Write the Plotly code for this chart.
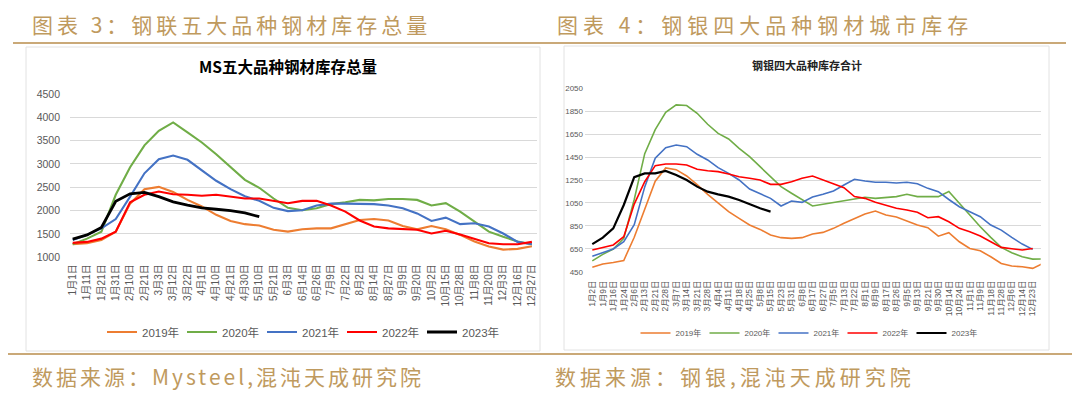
import plotly.graph_objects as go

W, H = 1080, 393

# ---------------- Left chart data (MS五大品种钢材库存总量) ----------------
left_labels = ["1月1日", "1月11日", "1月21日", "1月31日", "2月10日", "2月21日", "3月3日", "3月12日",
               "3月22日", "4月1日", "4月10日", "4月21日", "4月30日", "5月10日", "5月21日", "6月3日",
               "6月14日", "6月26日", "7月9日", "7月22日", "8月2日", "8月14日", "8月27日", "9月9日",
               "9月20日", "10月2日", "10月15日", "10月28日", "11月8日", "11月20日", "12月3日",
               "12月16日", "12月27日"]
left_2019 = [1280, 1300, 1370, 1550, 2150, 2460, 2510, 2400, 2230, 2090, 1910, 1780, 1710, 1680,
             1590, 1550, 1600, 1620, 1620, 1715, 1800, 1820, 1790, 1670, 1600, 1670, 1600, 1480,
             1340, 1230, 1165, 1180, 1235]
left_2020 = [1280, 1400, 1550, 2340, 2930, 3400, 3710, 3890, 3680, 3460, 3210, 2940, 2660, 2490,
             2260, 2060, 2010, 2050, 2140, 2180, 2230, 2220, 2250, 2250, 2230, 2110, 2160, 1980,
             1760, 1550, 1440, 1340, 1280]
left_2021 = [1370, 1480, 1620, 1820, 2300, 2800, 3100, 3180, 3090, 2870, 2640, 2460, 2310, 2210,
             2060, 1990, 2010, 2110, 2150, 2150, 2150, 2140, 2110, 2050, 1940, 1780, 1850, 1710,
             1730, 1660, 1510, 1330, 1280]
left_2022 = [1310, 1330, 1400, 1550, 2180, 2340, 2410, 2350, 2340, 2320, 2340, 2300, 2260, 2260,
             2210, 2160, 2210, 2210, 2110, 1980, 1790, 1660, 1620, 1600, 1590, 1510, 1570, 1490,
             1390, 1300, 1280, 1280, 1330]
left_2023 = [1390, 1480, 1640, 2200, 2360, 2390, 2300, 2190, 2120, 2060, 2030, 2000, 1950, 1870]
left_yticks = [1000, 1500, 2000, 2500, 3000, 3500, 4000, 4500]

# ---------------- Right chart data (钢银四大品种库存合计) ----------------
right_labels = ["1月2日", "1月9日", "1月16日", "1月24日", "2月6日", "2月13日", "2月21日", "2月28日",
                "3月7日", "3月14日", "3月21日", "3月28日", "4月4日", "4月11日", "4月18日", "4月25日",
                "5月8日", "5月15日", "5月23日", "5月31日", "6月8日", "6月17日", "6月27日", "7月5日",
                "7月13日", "7月22日", "8月1日", "8月9日", "8月17日", "8月26日", "9月5日", "9月13日",
                "9月21日", "9月30日", "10月14日", "10月24日", "11月1日", "11月9日", "11月18日",
                "11月28日", "12月6日", "12月14日", "12月23日"]
right_2019 = [488, 517, 531, 548, 750, 1000, 1240, 1355, 1340, 1285, 1210, 1125, 1046, 974, 915,
              857, 819, 770, 747, 741, 747, 779, 793, 828, 872, 915, 953, 979, 945, 927, 895, 857,
              834, 760, 790, 711, 653, 633, 580, 522, 499, 493, 479, 523]
right_2020 = [545, 601, 648, 740, 1080, 1480, 1690, 1840, 1905, 1900, 1832, 1736, 1657, 1608, 1526,
              1454, 1366, 1279, 1192, 1134, 1075, 1023, 1038, 1052, 1070, 1081, 1099, 1090, 1096,
              1105, 1125, 1105, 1105, 1105, 1150, 1046, 944, 842, 749, 662, 615, 580, 560, 561]
right_2021 = [585, 619, 648, 712, 860, 1190, 1440, 1532, 1555, 1541, 1474, 1425, 1358, 1308, 1250,
              1171, 1134, 1090, 1023, 1067, 1055, 1102, 1125, 1154, 1206, 1256, 1241, 1230, 1230,
              1224, 1230, 1218, 1177, 1148, 1080, 1017, 973, 930, 857, 813, 749, 691, 645]
right_2022 = [639, 659, 683, 755, 1040, 1235, 1375, 1390, 1390, 1381, 1343, 1331, 1323, 1302, 1279,
              1265, 1250, 1212, 1212, 1235, 1265, 1285, 1250, 1212, 1183, 1105, 1090, 1055, 1026,
              1003, 988, 968, 921, 930, 886, 828, 799, 761, 711, 662, 650, 639, 653]
right_2023 = [691, 747, 828, 1032, 1275, 1308, 1308, 1329, 1294, 1250, 1192, 1148, 1125, 1105, 1075,
              1038, 1003, 974]
right_yticks = [450, 650, 850, 1050, 1250, 1450, 1650, 1850, 2050]

series_names = ["2019年", "2020年", "2021年", "2022年", "2023年"]
colors = ["#ED7D31", "#70AD47", "#4472C4", "#FF0000", "#000000"]

GOLD = "#bf9a5e"
FONT = "Liberation Sans, Noto Sans CJK SC"
CJK = "Noto Sans CJK SC"


def px(x):
    return x / W


def py(y):
    return 1 - y / H


fig = go.Figure()

left_series = [left_2019, left_2020, left_2021, left_2022, left_2023]
for name, vals, col in zip(series_names, left_series, colors):
    fig.add_trace(go.Scatter(
        x=list(range(len(vals))), y=vals, name=name, mode="lines",
        line=dict(color=col, width=2.8 if name == "2023年" else 2.1),
        xaxis="x", yaxis="y", legend="legend"))

right_series = [right_2019, right_2020, right_2021, right_2022, right_2023]
for name, vals, col in zip(series_names, right_series, colors):
    fig.add_trace(go.Scatter(
        x=list(range(len(vals))), y=vals, name=name, mode="lines",
        line=dict(color=col, width=2.2 if name == "2023年" else 1.6),
        xaxis="x2", yaxis="y2", legend="legend2"))

# geometry of plot areas (pixels)
L_x0, L_x1, L_y0, L_y1 = 70, 537, 94, 257.3
L_first, L_step = 72.7, 14.35
R_x0, R_x1, R_y0, R_y1 = 585, 1040.7, 88.3, 271.7
R_first, R_step = 592.3, 10.486

grid = "#d9d9d9"
tick_col = "#595959"

fig.update_layout(
    width=W, height=H,
    margin=dict(l=0, r=0, t=0, b=0, autoexpand=False),
    paper_bgcolor="white", plot_bgcolor="white",
    showlegend=True,
    xaxis=dict(domain=[px(L_x0), px(L_x1)], anchor="y", automargin=False,
               range=[(L_x0 - L_first) / L_step, (L_x1 - L_first) / L_step],
               tickmode="array", tickvals=list(range(len(left_labels))), ticktext=left_labels,
               tickangle=-90, tickfont=dict(family=FONT, size=10, color=tick_col),
               showgrid=False, zeroline=False, showline=False, ticks="", ticklabelstandoff=4),
    yaxis=dict(domain=[py(L_y1), py(L_y0)], anchor="x", range=[1000, 4500], automargin=False,
               tickmode="array", tickvals=left_yticks,
               tickfont=dict(family=FONT, size=10.5, color=tick_col),
               showgrid=True, gridcolor=grid, gridwidth=1, zeroline=False, showline=False,
               ticks="", ticklabelstandoff=9),
    xaxis2=dict(domain=[px(R_x0), px(R_x1)], anchor="y2", automargin=False,
                range=[(R_x0 - R_first) / R_step, (R_x1 - R_first) / R_step],
                tickmode="array", tickvals=list(range(len(right_labels))), ticktext=right_labels,
                tickangle=-90, tickfont=dict(family=FONT, size=8.5, color=tick_col),
                showgrid=False, zeroline=False, showline=False, ticks="", ticklabelstandoff=6),
    yaxis2=dict(domain=[py(R_y1), py(R_y0)], anchor="x2", range=[450, 2050], automargin=False,
                tickmode="array", tickvals=right_yticks,
                tickfont=dict(family=FONT, size=8, color=tick_col),
                showgrid=True, gridcolor=grid, gridwidth=1, zeroline=False, showline=False,
                ticks="", ticklabelstandoff=1),
    legend=dict(orientation="h", x=px(102), y=py(332), xanchor="left", yanchor="middle",
                font=dict(family=FONT, size=11.5, color=tick_col), entrywidth=35,
                bgcolor="rgba(0,0,0,0)", itemclick=False),
    legend2=dict(orientation="h", x=px(808), y=py(333), xanchor="center", yanchor="middle",
                 font=dict(family=FONT, size=8, color=tick_col), entrywidth=24,
                 bgcolor="rgba(0,0,0,0)", itemclick=False),
)

shapes = [
    # chart image panels
    dict(type="rect", xref="paper", yref="paper", x0=px(26), x1=px(540), y0=py(351), y1=py(47),
         line=dict(color="#e2e2e2", width=1), fillcolor="rgba(0,0,0,0)", layer="below"),
    dict(type="rect", xref="paper", yref="paper", x0=px(564), x1=px(1049), y0=py(350), y1=py(46),
         line=dict(color="#e2e2e2", width=1), fillcolor="rgba(0,0,0,0)", layer="below"),
    # gold rules
    dict(type="line", xref="paper", yref="paper", x0=px(13), x1=px(1066), y0=py(43), y1=py(43),
         line=dict(color="#caa978", width=2)),
    dict(type="line", xref="paper", yref="paper", x0=px(8), x1=px(1072), y0=py(354), y1=py(354),
         line=dict(color="#caa978", width=2)),
]
fig.update_layout(shapes=shapes)

annotations = [
    dict(text='<span style="letter-spacing:4px">图表 3：钢联五大品种钢材库存总量</span>',
         x=px(30), y=py(24), xanchor="left", yanchor="middle",
         font=dict(family=CJK, size=21, color=GOLD)),
    dict(text='<span style="letter-spacing:5px">图表 4：钢银四大品种钢材城市库存</span>',
         x=px(555), y=py(24), xanchor="left", yanchor="middle",
         font=dict(family=CJK, size=21, color=GOLD)),
    dict(text='<span style="letter-spacing:3px">数据来源：Mysteel,混沌天成研究院</span>',
         x=px(30), y=py(376), xanchor="left", yanchor="middle",
         font=dict(family=CJK, size=21, color=GOLD)),
    dict(text='<span style="letter-spacing:4px">数据来源：钢银,混沌天成研究院</span>',
         x=px(553), y=py(376), xanchor="left", yanchor="middle",
         font=dict(family=CJK, size=21, color=GOLD)),
    dict(text="<b>MS五大品种钢材库存总量</b>", x=px(288), y=py(66), xanchor="center", yanchor="middle",
         font=dict(family=CJK, size=15.5, color="#000000")),
    dict(text="<b>钢银四大品种库存合计</b>", x=px(807), y=py(65), xanchor="center", yanchor="middle",
         font=dict(family=CJK, size=11, color="#222222")),
]
for a in annotations:
    a.update(xref="paper", yref="paper", showarrow=False)
fig.update_layout(annotations=annotations)

fig.write_html("out.html", config={"displayModeBar": False},
               post_script="document.body.style.margin='0';document.body.style.overflow='hidden';")
